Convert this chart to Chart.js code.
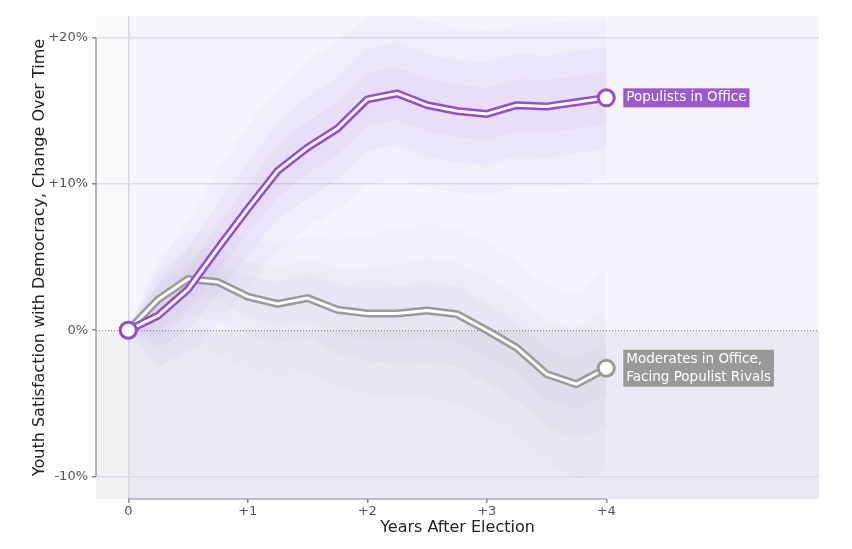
<!DOCTYPE html>
<html>
<head>
<meta charset="utf-8">
<script src="https://cdn.jsdelivr.net/npm/chart.js@4.4.0/dist/chart.umd.min.js"></script>
<style>
  body { margin: 0; background: #fff; }
  #wrap { width: 852px; height: 549px; }
</style>
</head>
<body>
<div id="wrap"><canvas id="grafic" width="852" height="549"></canvas></div>
<script>
// years after election, quarterly
var years = [0, 0.25, 0.5, 0.75, 1, 1.25, 1.5, 1.75, 2, 2.25, 2.5, 2.75, 3, 3.25, 3.5, 3.75, 4];

// populists in office (change in %)
var populists = [0, 1.0, 2.8, 5.6, 8.3, 10.9, 12.5, 13.8, 15.8, 16.2, 15.4, 15.0, 14.8, 15.4, 15.3, 15.6, 15.9];
var popOuterUp = [0, 4.5, 7.5, 11, 14, 16.5, 18.5, 19.8, 21.5, 22, 21.2, 20.8, 20.5, 21, 21, 21.2, 21.4];
var popOuterLo = [0, -2.5, -1.5, 0.5, 3, 5.5, 7, 8.2, 10, 10.4, 9.8, 9.4, 9.2, 9.8, 9.8, 10, 10.4];
var popMidUp = [0, 3.2, 5.6, 8.7, 11.5, 14.2, 16, 17.3, 19.3, 19.7, 18.9, 18.5, 18.3, 18.9, 18.8, 19.1, 19.4];
var popMidLo = [0, -1.2, 0, 2.5, 5.1, 7.6, 9, 10.3, 12.3, 12.7, 11.9, 11.5, 11.3, 11.9, 11.8, 12.1, 12.4];
var popInUp = [0, 2.1, 4.2, 7.2, 10, 12.7, 14.3, 15.6, 17.6, 18, 17.2, 16.8, 16.6, 17.2, 17.1, 17.4, 17.7];
var popInLo = [0, -0.1, 1.4, 4, 6.6, 9.1, 10.7, 12, 14, 14.4, 13.6, 13.2, 13, 13.6, 13.5, 13.8, 14.1];

// moderates in office, facing populist rivals
var moderates = [0, 2.1, 3.5, 3.3, 2.3, 1.8, 2.2, 1.4, 1.15, 1.15, 1.35, 1.1, 0, -1.2, -3.0, -3.7, -2.6];
var modOuterUp = [0, 5, 6.8, 6.8, 6.2, 6, 6.5, 6.2, 6.4, 7, 7.3, 7, 6, 4.8, 3, 2.6, 4.2];
var modOuterLo = [0, -2.6, -1.2, -1.6, -2.6, -3.2, -2.8, -3.8, -4.4, -4.6, -4.6, -5, -6, -7.2, -9, -10.2, -9.6];
var modMidUp = [0, 3.9, 5.6, 5.5, 4.7, 4.3, 4.8, 4.2, 4.2, 4.5, 4.8, 4.6, 3.6, 2.4, 0.6, 0.1, 1.4];
var modMidLo = [0, -0.5, 1, 0.7, -0.3, -0.9, -0.5, -1.6, -2.1, -2.3, -2.2, -2.5, -3.6, -4.8, -6.6, -7.5, -6.6];
var modInUp = [0, 3.1, 4.7, 4.6, 3.7, 3.3, 3.8, 3.1, 2.9, 3.0, 3.2, 3.0, 1.8, 0.6, -1.2, -1.9, -0.8];
var modInLo = [0, 1.1, 2.3, 2.0, 0.9, 0.3, 0.6, -0.3, -0.6, -0.7, -0.5, -0.8, -1.8, -3.0, -4.8, -5.5, -4.4];

var xTickValues = [0, 1, 2, 3, 4];
var xTickLabels = ['0', '+1', '+2', '+3', '+4'];
var yTickValues = [-10, 0, 10, 20];
var yTickLabels = ['-10%', '0%', '+10%', '+20%'];

var seriesLabels = [['Populists in Office'], ['Moderates in Office,', 'Facing Populist Rivals']];

var purple = '#914fcf';
var grey = '#9a9a9a';

function pts(arr) {
  return arr.map(function (v, i) { return { x: years[i], y: v }; });
}

var last = years.length - 1;
function endRadius(ctx) {
  return (ctx.dataIndex === 0 || ctx.dataIndex === last) ? 8 : 0;
}

var datasets = [];
// bands: upper fills down to the lower one (next index)
function band(up, lo, color, order) {
  var idx = datasets.length;
  datasets.push({ data: pts(up), borderWidth: 0, pointRadius: 0, fill: idx + 1, backgroundColor: color, order: order });
  datasets.push({ data: pts(lo), borderWidth: 0, pointRadius: 0, fill: false, order: order });
}

datasets.push({ data: pts(populists), borderColor: '#fff', borderWidth: 3, pointRadius: endRadius,
  pointBackgroundColor: '#fff', pointBorderColor: purple, pointBorderWidth: 3, fill: false, order: 0 });
datasets.push({ data: pts(populists), borderColor: purple, borderWidth: 8, pointRadius: 0, fill: false, order: 1 });
datasets.push({ data: pts(moderates), borderColor: '#fff', borderWidth: 3, pointRadius: endRadius,
  pointBackgroundColor: '#fff', pointBorderColor: grey, pointBorderWidth: 3, fill: false, order: 2 });
datasets.push({ data: pts(moderates), borderColor: grey, borderWidth: 8, pointRadius: 0, fill: false, order: 3 });

band(popInUp, popInLo, 'rgba(165,105,225,0.06)', 10);
band(popMidUp, popMidLo, 'rgba(165,105,225,0.05)', 11);
band(popOuterUp, popOuterLo, 'rgba(165,105,225,0.045)', 12);
band(modInUp, modInLo, 'rgba(110,110,130,0.035)', 13);
band(modMidUp, modMidLo, 'rgba(110,110,130,0.03)', 14);
band(modOuterUp, modOuterLo, 'rgba(110,110,130,0.028)', 15);

var backPlugin = {
  id: 'back',
  beforeDraw: function (chart) {
    var c = chart.ctx, a = chart.chartArea;
    var xs = chart.scales.x, ys = chart.scales.y;
    var x0 = xs.getPixelForValue(0), y0 = ys.getPixelForValue(0);
    c.save();
    c.fillStyle = '#f9f9fb'; c.fillRect(a.left, a.top, x0 - a.left, y0 - a.top);
    c.fillStyle = '#f2f2f4'; c.fillRect(a.left, y0, x0 - a.left, a.bottom - y0);
    c.fillStyle = '#f5f4fd'; c.fillRect(x0, a.top, a.right - x0, y0 - a.top);
    c.fillStyle = '#ebeaf4'; c.fillRect(x0, y0, a.right - x0, a.bottom - y0);
    c.restore();
  },
  beforeDatasetsDraw: function (chart) {
    var c = chart.ctx, a = chart.chartArea;
    var xs = chart.scales.x, ys = chart.scales.y;
    var y0 = ys.getPixelForValue(0);
    c.save();
    // dotted zero line
    c.strokeStyle = '#777';
    c.lineWidth = 1;
    c.setLineDash([1, 2]);
    c.beginPath(); c.moveTo(a.left, y0 + 0.5); c.lineTo(a.right, y0 + 0.5); c.stroke();
    c.setLineDash([]);
    // spines
    c.strokeStyle = '#888';
    c.lineWidth = 1.2;
    c.beginPath();
    c.moveTo(a.left, ys.getPixelForValue(yTickValues[yTickValues.length - 1]));
    c.lineTo(a.left, ys.getPixelForValue(yTickValues[0]));
    c.moveTo(xs.getPixelForValue(xTickValues[0]), a.bottom);
    c.lineTo(xs.getPixelForValue(xTickValues[xTickValues.length - 1]), a.bottom);
    c.stroke();
    c.restore();
  },
  afterDatasetsDraw: function (chart) {
    var c = chart.ctx;
    var xs = chart.scales.x, ys = chart.scales.y;
    var ends = [populists[last], moderates[last]];
    var colors = ['#9a58d3', '#999999'];
    c.save();
    c.font = '13.5px "DejaVu Sans"';
    c.textBaseline = 'middle';
    for (var s = 0; s < 2; s++) {
      var lines = seriesLabels[s];
      var px = xs.getPixelForValue(years[last]) + 17;
      var py = ys.getPixelForValue(ends[s]);
      var lh = 18;
      var w = 0;
      lines.forEach(function (t) { w = Math.max(w, c.measureText(t).width); });
      var h = lines.length * lh;
      c.fillStyle = colors[s];
      c.fillRect(px, py - h / 2 - 0.5, w + 6, h + 1);
      c.fillStyle = '#fff';
      lines.forEach(function (t, i) {
        c.fillText(t, px + 3, py - h / 2 + lh / 2 + i * lh);
      });
    }
    c.restore();
  }
};

Chart.defaults.font.family = '"DejaVu Sans"';

var chart = new Chart(document.getElementById('grafic'), {
  type: 'line',
  data: { datasets: datasets },
  plugins: [backPlugin],
  options: {
    responsive: false,
    animation: false,
    events: [],
    layout: { padding: { top: 16, right: 33, left: 0, bottom: 0 } },
    plugins: { legend: { display: false }, tooltip: { enabled: false } },
    elements: { line: { tension: 0, borderJoinStyle: 'round', borderCapStyle: 'round' } },
    scales: {
      x: {
        type: 'linear',
        min: -0.27,
        max: 5.78,
        afterBuildTicks: function (scale) {
          scale.ticks = xTickValues.map(function (v) { return { value: v }; });
        },
        afterFit: function (scale) { scale.height = 50; },
        border: { display: false },
        grid: {
          color: function (ctx) { return ctx.tick && ctx.tick.value === 0 ? '#d6d6de' : 'rgba(0,0,0,0)'; },
          lineWidth: 1.5,
          tickColor: '#888',
          tickLength: 4
        },
        ticks: {
          color: '#555',
          font: { size: 13 },
          padding: 1,
          maxRotation: 0,
          callback: function (v) { return xTickLabels[xTickValues.indexOf(v)]; }
        },
        title: {
          display: true,
          text: 'Years After Election',
          color: '#222',
          font: { size: 16 },
          padding: { top: 0, bottom: 12 }
        }
      },
      y: {
        min: -11.55,
        max: 21.5,
        afterBuildTicks: function (scale) {
          scale.ticks = yTickValues.map(function (v) { return { value: v }; });
        },
        afterFit: function (scale) { scale.width = 96; },
        border: { display: false },
        grid: {
          color: function (ctx) { return ctx.tick && ctx.tick.value === 0 ? 'rgba(0,0,0,0)' : '#dcdce6'; },
          lineWidth: 1.5,
          tickColor: '#888',
          tickLength: 4
        },
        ticks: {
          color: '#555',
          font: { size: 13 },
          padding: 4,
          callback: function (v) { return yTickLabels[yTickValues.indexOf(v)]; }
        },
        title: {
          display: true,
          text: 'Youth Satisfaction with Democracy, Change Over Time',
          color: '#222',
          font: { size: 16 },
          padding: { top: 30, bottom: 0 }
        }
      }
    }
  }
});
</script>
</body>
</html>
